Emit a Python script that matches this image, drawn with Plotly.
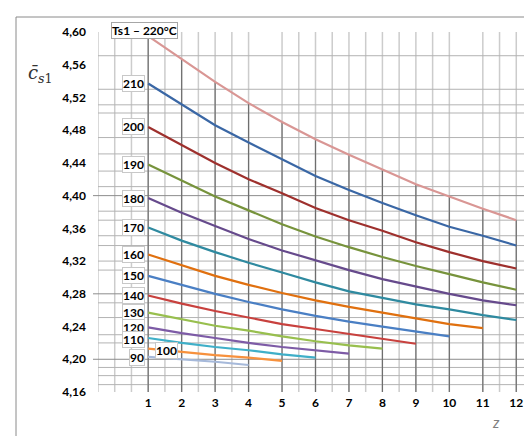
import plotly.graph_objects as go

# ---------------- data ----------------
temps = [220, 210, 200, 190, 180, 170, 160, 150, 140, 130, 120, 110, 100, 90]
series_values = {
    220: [4.595, 4.567, 4.539, 4.513, 4.490, 4.469, 4.450, 4.432, 4.414, 4.399, 4.384, 4.370],
    210: [4.537, 4.511, 4.486, 4.465, 4.444, 4.424, 4.407, 4.391, 4.376, 4.362, 4.351, 4.339],
    200: [4.484, 4.462, 4.440, 4.420, 4.403, 4.385, 4.370, 4.357, 4.343, 4.331, 4.320, 4.311],
    190: [4.438, 4.418, 4.399, 4.382, 4.365, 4.350, 4.337, 4.325, 4.314, 4.304, 4.294, 4.285],
    180: [4.397, 4.379, 4.363, 4.347, 4.333, 4.321, 4.309, 4.298, 4.289, 4.280, 4.272, 4.266],
    170: [4.361, 4.345, 4.331, 4.318, 4.306, 4.294, 4.283, 4.275, 4.267, 4.261, 4.254, 4.248],
    160: [4.328, 4.315, 4.302, 4.291, 4.281, 4.272, 4.264, 4.257, 4.250, 4.243, 4.238],
    150: [4.302, 4.291, 4.280, 4.270, 4.261, 4.253, 4.246, 4.240, 4.234, 4.228],
    140: [4.278, 4.268, 4.259, 4.251, 4.243, 4.237, 4.231, 4.225, 4.219],
    130: [4.257, 4.249, 4.241, 4.235, 4.228, 4.222, 4.217, 4.213],
    120: [4.239, 4.232, 4.226, 4.220, 4.215, 4.211, 4.207],
    110: [4.226, 4.220, 4.215, 4.211, 4.206, 4.202],
    100: [4.213, 4.209, 4.205, 4.202, 4.198],
    90:  [4.203, 4.200, 4.197, 4.193],
}
series_labels = {t: str(t) for t in temps}
series_labels[220] = "Ts1 \u2013 220\u00b0C"

x_tick_vals = list(range(1, 13))
x_tick_text = [str(v) for v in x_tick_vals]
y_tick_vals = [4.16, 4.20, 4.24, 4.28, 4.32, 4.36, 4.40, 4.44, 4.48, 4.52, 4.56, 4.60]
y_tick_text = ["4,16", "4,20", "4,24", "4,28", "4,32", "4,36", "4,40", "4,44", "4,48", "4,52", "4,56", "4,60"]

# grid lines seen in the picture
h_grid_minor = [4.571, 4.530, 4.511, 4.501, 4.471, 4.451, 4.430, 4.411, 4.381, 4.370,
                4.351, 4.339, 4.320, 4.309, 4.269, 4.251, 4.230, 4.220, 4.190, 4.180, 4.169]
h_grid_major = [4.40, 4.28, 4.20]
v_grid = [-0.5, 0, 0.5, 1, 1.5, 2, 2.5, 3, 3.5, 4, 5, 5.5, 6, 6.5, 7, 7.5, 8, 8.5,
          9, 9.5, 10, 11, 11.5, 12, 12.5]

colors = {
    220: "#D99694", 210: "#3A67A5", 200: "#9E302D", 190: "#77933C",
    180: "#664A8C", 170: "#2F8AA0", 160: "#E0700F", 150: "#4A7FC4",
    140: "#C8413E", 130: "#98BF4E", 120: "#7D5BA6", 110: "#3FAFC8",
    100: "#F7913D", 90: "#A6B9DA",
}
label_yshift = {110: -1.5, 90: -1}

X_MIN, X_MAX = -0.5, 12.5
Y_MIN, Y_MAX = 4.16, 4.60
W, H = 532, 436
ML, MR, MT, MB = 90, 7, 24, 52
PW = W - ML - MR
PH = H - MT - MB

fig = go.Figure()

shapes = []
# outer frame (top + left visible)
shapes.append(dict(type="rect", xref="paper", yref="paper",
                   x0=-(ML - 8) / PW, x1=1.2, y0=-0.3, y1=1 + (MT - 9) / PH,
                   line=dict(color="#8a8a8a", width=1), fillcolor="rgba(0,0,0,0)", layer="below"))
for v in v_grid:
    shapes.append(dict(type="line", xref="x", yref="paper", x0=v, x1=v, y0=0, y1=1,
                       line=dict(color="#cccccc", width=1.5), layer="below"))
for v in h_grid_minor:
    shapes.append(dict(type="line", xref="paper", yref="y", x0=0, x1=1, y0=v, y1=v,
                       line=dict(color="#b3b3b3", width=1), layer="below"))
for v in h_grid_major:
    shapes.append(dict(type="line", xref="paper", yref="y", x0=-5 / PW, x1=1, y0=v, y1=v,
                       line=dict(color="#8c8c8c", width=1), layer="below"))
# drop lines from top curve
top = series_values[temps[0]]
for i, v in enumerate(top):
    shapes.append(dict(type="line", xref="x", yref="y", x0=i + 1, x1=i + 1, y0=Y_MIN, y1=v,
                       line=dict(color="#6e6e6e", width=1.2), layer="below"))

for t in temps:
    vals = series_values[t]
    zs = list(range(1, len(vals) + 1))
    fig.add_trace(go.Scatter(x=zs, y=vals, mode="lines",
                             line=dict(color=colors[t], width=2.2),
                             showlegend=False, hoverinfo="skip"))

annotations = []
lab_font = dict(family="Lato, Liberation Sans, sans-serif", size=12, color="black", weight="bold")
for t in temps:
    v0 = series_values[t][0]
    if t == temps[0]:
        annotations.append(dict(x=(136.5 - ML) / PW, y=1 + (MT - 22.5) / PH, xref="paper", yref="paper",
                                text=series_labels[t],
                                showarrow=False, xanchor="center", yanchor="middle",
                                font=lab_font, bgcolor="white", bordercolor="#a6a6a6",
                                borderwidth=1, borderpad=0))
    elif t == 100:
        annotations.append(dict(x=1, y=v0 - 0.0025, xref="x", yref="y", text=series_labels[t],
                                showarrow=False, xanchor="left", yanchor="middle", xshift=7,
                                font=lab_font, bgcolor="white", bordercolor="#c8c8c8",
                                borderwidth=1, borderpad=0))
    else:
        annotations.append(dict(x=1, y=v0, xref="x", yref="y", text=series_labels[t],
                                showarrow=False, xanchor="right", yanchor="middle", xshift=-3,
                                yshift=label_yshift.get(t, 0),
                                font=lab_font, bgcolor="white", bordercolor="#c8c8c8",
                                borderwidth=1, borderpad=0))

# axis titles
annotations.append(dict(x=(32 - ML) / PW, y=(H - MB - 66) / PH, xref="paper", yref="paper",
                        text="<i>c\u0304</i><sub><i>s</i>1</sub>", showarrow=False,
                        xanchor="center", yanchor="middle",
                        font=dict(family="DejaVu Serif, Liberation Serif, serif", size=18, color="#333333")))
annotations.append(dict(x=(488 - ML) / PW, y=(H - MB - 414) / PH, xref="paper", yref="paper",
                        text="<i>z</i>", showarrow=False, xanchor="center", yanchor="middle",
                        font=dict(family="Lato, Liberation Sans, sans-serif", size=15, color="#7f7f7f")))

fig.update_layout(
    width=W, height=H,
    margin=dict(l=ML, r=MR, t=MT, b=MB),
    paper_bgcolor="white", plot_bgcolor="white",
    shapes=shapes, annotations=annotations,
    xaxis=dict(range=[X_MIN, X_MAX], tickmode="array", tickvals=x_tick_vals, ticktext=x_tick_text,
               showgrid=False, zeroline=False, showline=False, ticks="",
               tickfont=dict(family="Lato, Liberation Sans, sans-serif", size=12, color="black", weight="bold"),
               ticklabelstandoff=2),
    yaxis=dict(range=[Y_MIN, Y_MAX], tickmode="array", tickvals=y_tick_vals, ticktext=y_tick_text,
               showgrid=False, zeroline=False, showline=False, ticks="",
               tickfont=dict(family="Lato, Liberation Sans, sans-serif", size=12, color="black", weight="bold"),
               ticklabelstandoff=11),
)

fig.write_html("out.html")
